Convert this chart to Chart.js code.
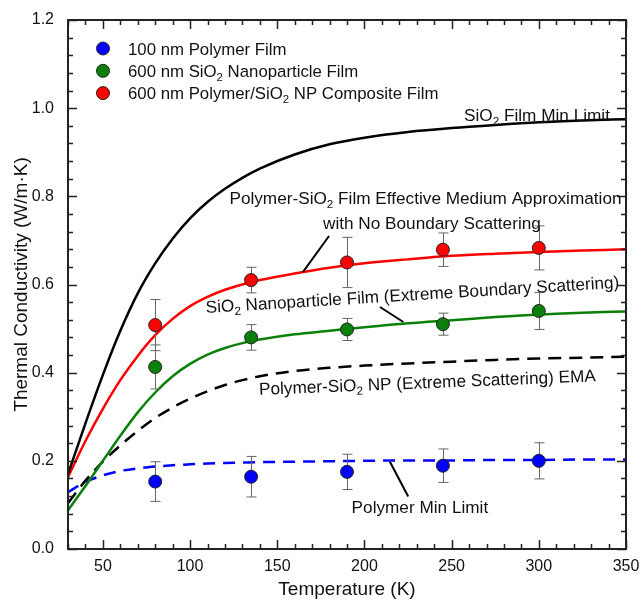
<!DOCTYPE html>
<html>
<head>
<meta charset="utf-8">
<script src="https://cdn.jsdelivr.net/npm/chart.js@4.4.1/dist/chart.umd.min.js"></script>
<style>
  body { margin: 0; background: #fff; }
  canvas { display: block; }
</style>
</head>
<body>
<canvas id="chart" width="642" height="606"></canvas>
<script>
// measured points (temperature in K)
const sampleTemps = [80, 135, 190, 245, 300]
const polymerK = [0.153, 0.164, 0.175, 0.189, 0.200]
const polymerErr = [0.045, 0.046, 0.040, 0.038, 0.041]
const nanoK = [0.413, 0.480, 0.498, 0.510, 0.540]
const nanoErr = [0.050, 0.029, 0.025, 0.025, 0.042]
const compositeK = [0.508, 0.610, 0.650, 0.679, 0.683]
const compositeErr = [0.058, 0.029, 0.057, 0.038, 0.050]

// model curves
const curveTemps = [30, 40, 50, 60, 70, 80, 90, 100, 110, 120, 130, 140, 160, 180, 200, 225, 250, 275, 300, 325, 350]
const sio2MinLimit = [0.17, 0.285, 0.395, 0.495, 0.58, 0.648, 0.704, 0.75, 0.787, 0.817, 0.842, 0.863, 0.895, 0.918, 0.933, 0.946, 0.955, 0.962, 0.968, 0.972, 0.975]
const emaNoScatter = [0.163, 0.245, 0.318, 0.383, 0.438, 0.485, 0.522, 0.551, 0.572, 0.588, 0.6, 0.61, 0.625, 0.638, 0.648, 0.657, 0.665, 0.67, 0.674, 0.677, 0.68]
const nanoExtreme = [0.088, 0.143, 0.2, 0.257, 0.31, 0.355, 0.392, 0.42, 0.441, 0.456, 0.467, 0.475, 0.487, 0.495, 0.503, 0.512, 0.519, 0.526, 0.532, 0.536, 0.539]
const emaExtreme = [0.104, 0.155, 0.198, 0.235, 0.268, 0.297, 0.321, 0.341, 0.358, 0.372, 0.383, 0.392, 0.404, 0.411, 0.416, 0.421, 0.425, 0.429, 0.432, 0.434, 0.436]
const polymerMinLimit = [0.129, 0.152, 0.167, 0.177, 0.183, 0.187, 0.19, 0.192, 0.194, 0.195, 0.196, 0.197, 0.198, 0.199, 0.2, 0.201, 0.201, 0.202, 0.202, 0.203, 0.203]

const xTickVals = [50, 100, 150, 200, 250, 300, 350]
const yTickVals = [0, 0.2, 0.4, 0.6, 0.8, 1.0, 1.2]

const FONT = '"Liberation Sans", Arial, sans-serif'

const pts = (xs, ys) => xs.map((x, i) => ({ x: x, y: ys[i] }))

const pointSet = (label, ys, err, color) => ({
  label: label,
  data: pts(sampleTemps, ys),
  err: err,
  backgroundColor: color,
  borderColor: '#222',
  borderWidth: 1,
  pointRadius: 6.5,
  showLine: false
})

const curveSet = (ys, color, dash) => ({
  data: pts(curveTemps, ys),
  borderColor: color,
  borderWidth: 2.5,
  borderDash: dash || [],
  pointRadius: 0,
  showLine: true,
  fill: false,
  cubicInterpolationMode: 'monotone'
})

// legend rows and annotations (text uses _2 for subscript)
const legendRows = [
  { text: '100 nm Polymer Film', color: '#0000ff' },
  { text: '600 nm SiO_2 Nanoparticle Film', color: '#0a800a' },
  { text: '600 nm Polymer/SiO_2 NP Composite Film', color: '#ff0000' }
]

const notes = [
  { text: 'SiO_2 Film Min Limit', x: 340.8, y: 0.984, align: 'right' },
  { text: 'Polymer-SiO_2 Film Effective Medium Approximation', x: 235, y: 0.797, align: 'center' },
  { text: 'with No Boundary Scattering', x: 238.7, y: 0.739, align: 'center' },
  { text: 'SiO_2 Nanoparticle Film (Extreme Boundary Scattering)', x: 227.5, y: 0.578, align: 'center', rot: -3.5 },
  { text: 'Polymer-SiO_2 NP (Extreme Scattering) EMA', x: 236.1, y: 0.379, align: 'center', rot: -2.3 },
  { text: 'Polymer Min Limit', x: 231.8, y: 0.095, align: 'center' }
]
const leaders = [
  [179.7, 0.71, 164.7, 0.628],
  [208.9, 0.549, 222.3, 0.515],
  [214.6, 0.198, 225.1, 0.119]
]

function splitSub(str) {
  const parts = []
  const re = /_(\d)/g
  let last = 0, m
  while ((m = re.exec(str))) {
    if (m.index > last) parts.push({ t: str.slice(last, m.index) })
    parts.push({ t: m[1], sub: true })
    last = re.lastIndex
  }
  if (last < str.length) parts.push({ t: str.slice(last) })
  return parts
}

// draws text centred vertically on y
function drawRich(ctx, str, x, y, size, align) {
  const parts = splitSub(str)
  let w = 0
  parts.forEach(p => {
    ctx.font = (p.sub ? size * 0.68 : size) + 'px ' + FONT
    p.w = ctx.measureText(p.t).width
    w += p.w
  })
  let cx = align === 'center' ? x - w / 2 : align === 'right' ? x - w : x
  const base = y + size * 0.36
  ctx.textAlign = 'left'
  ctx.textBaseline = 'alphabetic'
  parts.forEach(p => {
    ctx.font = (p.sub ? size * 0.68 : size) + 'px ' + FONT
    ctx.fillText(p.t, cx, p.sub ? base + size * 0.22 : base)
    cx += p.w
  })
}

const errorBars = {
  id: 'errorBars',
  beforeDatasetDraw(chart, args) {
    const ds = chart.data.datasets[args.index]
    if (!ds.err) return
    const { ctx, scales: { x, y } } = chart
    ctx.save()
    ctx.strokeStyle = '#666'
    ctx.lineWidth = 1
    ds.data.forEach((p, i) => {
      const px = Math.round(x.getPixelForValue(p.x)) + 0.5
      const top = y.getPixelForValue(p.y + ds.err[i])
      const bot = y.getPixelForValue(p.y - ds.err[i])
      ctx.beginPath()
      ctx.moveTo(px, top); ctx.lineTo(px, bot)
      ctx.moveTo(px - 5, top); ctx.lineTo(px + 5, top)
      ctx.moveTo(px - 5, bot); ctx.lineTo(px + 5, bot)
      ctx.stroke()
    })
    ctx.restore()
  }
}

const frameAndNotes = {
  id: 'frameAndNotes',
  afterDraw(chart) {
    const { ctx, chartArea: a, scales: { x, y } } = chart
    ctx.save()
    // inward ticks on all sides
    ctx.strokeStyle = '#222'
    ctx.lineWidth = 1.5
    ctx.beginPath()
    for (let t = 30; t <= 350; t += 10) {
      const px = Math.round(x.getPixelForValue(t)) + 0.5
      const len = t % 50 === 0 ? 9 : 5
      ctx.moveTo(px, a.bottom); ctx.lineTo(px, a.bottom - len)
      ctx.moveTo(px, a.top); ctx.lineTo(px, a.top + len)
    }
    for (let i = 0; i <= 30; i++) {
      const v = i * 0.04
      const py = Math.round(y.getPixelForValue(v)) + 0.5
      const len = i % 5 === 0 ? 9 : 5
      ctx.moveTo(a.left, py); ctx.lineTo(a.left + len, py)
      ctx.moveTo(a.right, py); ctx.lineTo(a.right - len, py)
    }
    ctx.stroke()
    ctx.lineWidth = 2
    ctx.strokeRect(a.left, a.top, a.right - a.left, a.bottom - a.top)

    // leader lines
    ctx.strokeStyle = '#000'
    ctx.lineWidth = 2
    ctx.beginPath()
    leaders.forEach(l => {
      ctx.moveTo(x.getPixelForValue(l[0]), y.getPixelForValue(l[1]))
      ctx.lineTo(x.getPixelForValue(l[2]), y.getPixelForValue(l[3]))
    })
    ctx.stroke()

    // annotation text
    ctx.fillStyle = '#111'
    notes.forEach(n => {
      ctx.save()
      ctx.translate(x.getPixelForValue(n.x), y.getPixelForValue(n.y))
      if (n.rot) ctx.rotate(n.rot * Math.PI / 180)
      drawRich(ctx, n.text, 0, 0, 17.2, n.align)
      ctx.restore()
    })

    // legend
    legendRows.forEach((r, i) => {
      const cy = a.top + 28.5 + i * 22.3
      ctx.beginPath()
      ctx.arc(a.left + 35, cy, 6.5, 0, Math.PI * 2)
      ctx.fillStyle = r.color
      ctx.fill()
      ctx.lineWidth = 1
      ctx.strokeStyle = '#222'
      ctx.stroke()
      ctx.fillStyle = '#111'
      drawRich(ctx, r.text, a.left + 60, cy, 16.8, 'left')
    })
    ctx.restore()
  }
}

new Chart(document.getElementById('chart'), {
  type: 'scatter',
  data: {
    datasets: [
      pointSet('100 nm Polymer Film', polymerK, polymerErr, '#0000ff'),
      pointSet('600 nm SiO2 Nanoparticle Film', nanoK, nanoErr, '#0a800a'),
      pointSet('600 nm Polymer/SiO2 NP Composite Film', compositeK, compositeErr, '#ff0000'),
      curveSet(sio2MinLimit, '#000000'),
      curveSet(emaNoScatter, '#ff0000'),
      curveSet(nanoExtreme, '#0a800a'),
      curveSet(emaExtreme, '#000000', [13, 8]),
      curveSet(polymerMinLimit, '#0000ff', [12, 8])
    ]
  },
  options: {
    responsive: false,
    animation: false,
    layout: { padding: { top: 20, right: 16, left: 0, bottom: 0 } },
    plugins: { legend: { display: false }, tooltip: { enabled: false } },
    scales: {
      x: {
        type: 'linear',
        min: 30,
        max: 350,
        afterFit(s) { s.height = 57; s.paddingLeft = 0; s.paddingRight = 0 },
        afterBuildTicks(s) { s.ticks = xTickVals.map(v => ({ value: v })) },
        grid: { display: false, drawTicks: false },
        border: { display: false },
        ticks: { color: '#111', padding: 8, maxRotation: 0, font: { family: FONT, size: 16 } },
        title: { display: true, text: 'Temperature (K)', color: '#111', padding: { top: 0, bottom: 5 }, font: { family: FONT, size: 19 } }
      },
      y: {
        type: 'linear',
        min: 0,
        max: 1.2,
        afterFit(s) { s.width = 68; s.paddingTop = 0; s.paddingBottom = 0 },
        afterBuildTicks(s) { s.ticks = yTickVals.map(v => ({ value: v })) },
        grid: { display: false, drawTicks: false },
        border: { display: false },
        ticks: { color: '#111', padding: 14, font: { family: FONT, size: 16 }, callback: v => v.toFixed(1) },
        title: { display: true, text: 'Thermal Conductivity (W/m·K)', color: '#111', padding: { top: 10, bottom: 0 }, font: { family: FONT, size: 19 } }
      }
    }
  },
  plugins: [errorBars, frameAndNotes]
})
</script>
</body>
</html>
